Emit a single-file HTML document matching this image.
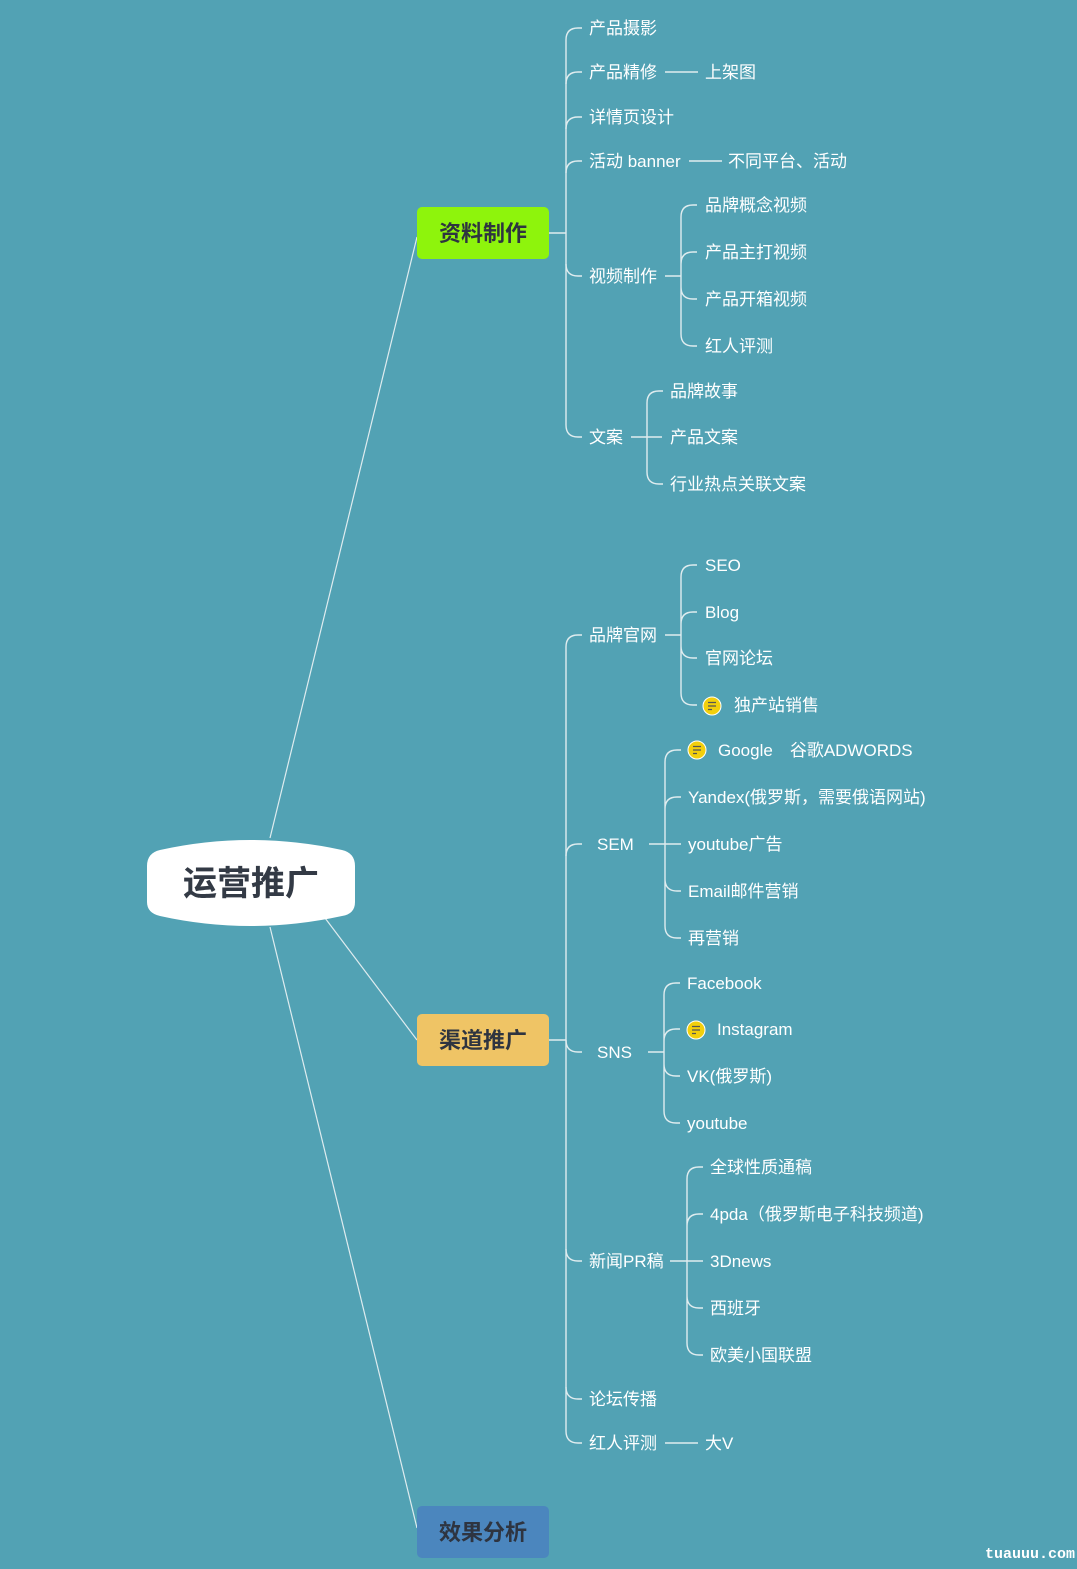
<!DOCTYPE html>
<html><head><meta charset="utf-8"><style>
html,body{margin:0;padding:0;background:#52a2b4;}
svg{display:block}
text{font-family:"Liberation Sans","Noto Sans CJK SC",sans-serif;}
.t{fill:#fff;font-size:17px;}
.b{font-size:22px;font-weight:bold;fill:#2e3440;}
</style></head><body>
<svg width="1077" height="1569" viewBox="0 0 1077 1569" xmlns="http://www.w3.org/2000/svg">
<rect width="1077" height="1569" fill="#52a2b4"/>
<g fill="none" stroke="#dfecef" stroke-width="1.2">
<path d="M270,838 L417,237"/>
<path d="M325,918 L417,1040"/>
<path d="M270,927 L417,1528"/>
</g>
<g fill="none" stroke="#dfecef" stroke-width="1.4">
<!-- group1 -->
<path d="M549,233 H566 M566,40 V425"/>
<path d="M566,40 Q566,28 578,28 H582 M566,84 Q566,72 578,72 H582 M566,129 Q566,117 578,117 H582 M566,173 Q566,161 578,161 H582 M566,264 Q566,276 578,276 H582 M566,425 Q566,437 578,437 H582"/>
<path d="M665,72 H698 M689,161 H722"/>
<path d="M665,276 H681 M681,217 V334 M681,217 Q681,205 693,205 H697 M681,264 Q681,252 693,252 H697 M681,287 Q681,299 693,299 H697 M681,334 Q681,346 693,346 H697"/>
<path d="M631,437 H662 M647,403 V472 M647,403 Q647,391 659,391 H663 M647,472 Q647,484 659,484 H663"/>
<!-- group2 -->
<path d="M549,1040 H566 M566,647 V1431"/>
<path d="M566,647 Q566,635 578,635 H582 M566,856 Q566,844 578,844 H582 M566,1040 Q566,1052 578,1052 H582 M566,1249 Q566,1261 578,1261 H582 M566,1387 Q566,1399 578,1399 H582 M566,1431 Q566,1443 578,1443 H582"/>
<path d="M665,635 H681 M681,577 V693 M681,577 Q681,565 693,565 H697 M681,624 Q681,612 693,612 H697 M681,646 Q681,658 693,658 H697 M681,693 Q681,705 693,705 H697"/>
<path d="M649,844 H681 M665,762 V926 M665,762 Q665,750 677,750 H681 M665,809 Q665,797 677,797 H681 M665,879 Q665,891 677,891 H681 M665,926 Q665,938 677,938 H681"/>
<path d="M648,1052 H664 M664,995 V1111 M664,995 Q664,983 676,983 H680 M664,1041 Q664,1029 676,1029 H680 M664,1064 Q664,1076 676,1076 H680 M664,1111 Q664,1123 676,1123 H680"/>
<path d="M670,1261 H703 M687,1179 V1343 M687,1179 Q687,1167 699,1167 H703 M687,1226 Q687,1214 699,1214 H703 M687,1296 Q687,1308 699,1308 H703 M687,1343 Q687,1355 699,1355 H703"/>
<path d="M665,1443 H698"/>
</g>
<!-- central -->
<path d="M160,850 Q250,830 342,850 Q355,853 355,866 V902 Q355,914 342,916 Q250,936 160,916 Q147,913 147,902 V866 Q147,853 160,850 Z" fill="#fff"/>
<text x="251" y="895" text-anchor="middle" style="font-size:34px;font-weight:bold;fill:#333a45">运营推广</text>
<rect x="417" y="207" width="132" height="52" rx="5" fill="#8ef40c"/>
<text class="b" x="483" y="241" text-anchor="middle">资料制作</text>
<rect x="417" y="1014" width="132" height="52" rx="5" fill="#efc465"/>
<text class="b" x="483" y="1048" text-anchor="middle">渠道推广</text>
<rect x="417" y="1506" width="132" height="52" rx="5" fill="#4b86be"/>
<text class="b" x="483" y="1540" text-anchor="middle">效果分析</text>
<g class="t">
<text class="t" x="589" y="34">产品摄影</text>
<text class="t" x="589" y="78">产品精修</text>
<text class="t" x="705" y="78">上架图</text>
<text class="t" x="589" y="123">详情页设计</text>
<text class="t" x="589" y="167">活动 banner</text>
<text class="t" x="728" y="167">不同平台、活动</text>
<text class="t" x="589" y="282">视频制作</text>
<text class="t" x="705" y="211">品牌概念视频</text>
<text class="t" x="705" y="258">产品主打视频</text>
<text class="t" x="705" y="305">产品开箱视频</text>
<text class="t" x="705" y="352">红人评测</text>
<text class="t" x="589" y="443">文案</text>
<text class="t" x="670" y="397">品牌故事</text>
<text class="t" x="670" y="443">产品文案</text>
<text class="t" x="670" y="490">行业热点关联文案</text>
<text class="t" x="589" y="641">品牌官网</text>
<text class="t" x="705" y="571">SEO</text>
<text class="t" x="705" y="618">Blog</text>
<text class="t" x="705" y="664">官网论坛</text>
<text class="t" x="734" y="711">独产站销售</text>
<text class="t" x="597" y="850">SEM</text>
<text class="t" x="718" y="756">Google　谷歌ADWORDS</text>
<text class="t" x="688" y="803">Yandex(俄罗斯，需要俄语网站)</text>
<text class="t" x="688" y="850">youtube广告</text>
<text class="t" x="688" y="897">Email邮件营销</text>
<text class="t" x="688" y="944">再营销</text>
<text class="t" x="597" y="1058">SNS</text>
<text class="t" x="687" y="989">Facebook</text>
<text class="t" x="717" y="1035">Instagram</text>
<text class="t" x="687" y="1082">VK(俄罗斯)</text>
<text class="t" x="687" y="1129">youtube</text>
<text class="t" x="589" y="1267">新闻PR稿</text>
<text class="t" x="710" y="1173">全球性质通稿</text>
<text class="t" x="710" y="1220">4pda（俄罗斯电子科技频道)</text>
<text class="t" x="710" y="1267">3Dnews</text>
<text class="t" x="710" y="1314">西班牙</text>
<text class="t" x="710" y="1361">欧美小国联盟</text>
<text class="t" x="589" y="1405">论坛传播</text>
<text class="t" x="589" y="1449">红人评测</text>
<text class="t" x="705" y="1449">大V</text>
</g>
<g>
<circle cx="712" cy="706" r="9" fill="#f2cf0c" stroke="#fff" stroke-width="1"/>
<path d="M708,702.5 H716 M708,706 H716 M708,709.5 H712" stroke="#555" stroke-width="1.2"/>
<circle cx="697" cy="750" r="9" fill="#f2cf0c" stroke="#fff" stroke-width="1"/>
<path d="M693,746.5 H701 M693,750 H701 M693,753.5 H697" stroke="#555" stroke-width="1.2"/>
<circle cx="696" cy="1030" r="9" fill="#f2cf0c" stroke="#fff" stroke-width="1"/>
<path d="M692,1026.5 H700 M692,1030 H700 M692,1033.5 H696" stroke="#555" stroke-width="1.2"/>
</g>
<text x="985" y="1558" style="font-family:'Liberation Mono',monospace;font-size:15px;font-weight:bold;fill:#fff">tuauuu.com</text>
</svg>
</body></html>
